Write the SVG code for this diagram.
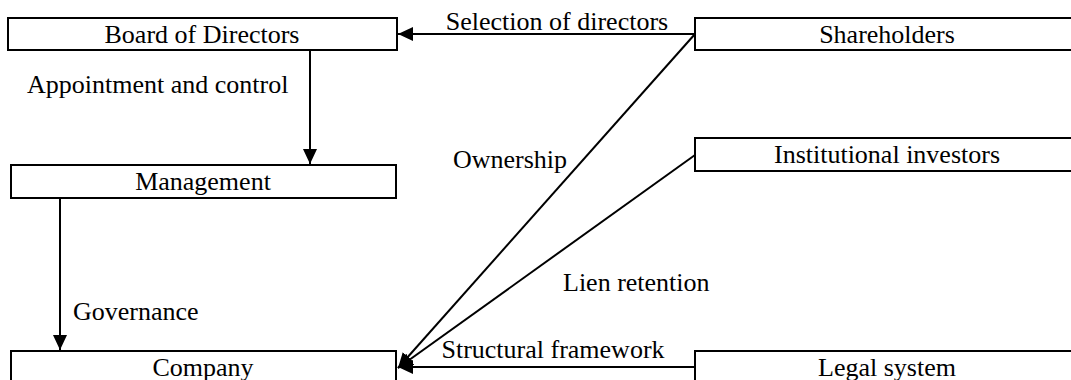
<svg xmlns="http://www.w3.org/2000/svg" width="1071" height="380" viewBox="0 0 1071 380">
<style>
.box{fill:#fff;stroke:#000;stroke-width:2}
.t{font-family:'Liberation Serif','Times New Roman','DejaVu Serif',serif;font-size:26px;fill:#000}
.c{text-anchor:middle}
.ln{stroke:#000;stroke-width:2;fill:none}
</style>
<defs>
<marker id="ah" markerUnits="userSpaceOnUse" markerWidth="16" markerHeight="14" refX="15" refY="7" orient="auto">
<path d="M0,0 L15,7 L0,14 Z" fill="#000"/>
</marker>
</defs>
<rect width="1071" height="380" fill="#fff"/>
<g id="connectors">
<line class="ln" x1="695" y1="34" x2="398" y2="34" marker-end="url(#ah)"/>
<line class="ln" x1="310" y1="50" x2="310" y2="164" marker-end="url(#ah)"/>
<line class="ln" x1="60" y1="198" x2="60" y2="350" marker-end="url(#ah)"/>
<line class="ln" x1="695" y1="34" x2="398" y2="368" marker-end="url(#ah)"/>
<line class="ln" x1="695" y1="155" x2="398" y2="368" marker-end="url(#ah)"/>
<line class="ln" x1="695" y1="367" x2="398" y2="367" marker-end="url(#ah)"/>
<text class="t c" x="557" y="30" font-family="Liberation Serif, serif">Selection of directors</text>
<text class="t" x="27" y="93" font-family="Liberation Serif, serif">Appointment and control</text>
<text class="t" x="453" y="168" font-family="Liberation Serif, serif">Ownership</text>
<text class="t" x="73" y="320" font-family="Liberation Serif, serif">Governance</text>
<text class="t" x="563" y="291" font-family="Liberation Serif, serif">Lien retention</text>
<text class="t c" x="553" y="358" font-family="Liberation Serif, serif">Structural framework</text>
</g>
<g id="board">
<rect class="box" x="8" y="18" width="389" height="32"/>
<text class="t c" x="202" y="43" font-family="Liberation Serif, serif">Board of Directors</text>
</g>
<g id="shareholders">
<rect class="box" x="695" y="18" width="385" height="32"/>
<text class="t c" x="887" y="43" font-family="Liberation Serif, serif">Shareholders</text>
</g>
<g id="management">
<rect class="box" x="11" y="165" width="385" height="33"/>
<text class="t c" x="203" y="190" font-family="Liberation Serif, serif">Management</text>
</g>
<g id="institutional">
<rect class="box" x="695" y="138" width="385" height="33"/>
<text class="t c" x="887" y="163" font-family="Liberation Serif, serif">Institutional investors</text>
</g>
<g id="company">
<rect class="box" x="11" y="351" width="385" height="40"/>
<text class="t c" x="203" y="376" font-family="Liberation Serif, serif">Company</text>
</g>
<g id="legal">
<rect class="box" x="695" y="351" width="385" height="40"/>
<text class="t c" x="887" y="376" font-family="Liberation Serif, serif">Legal system</text>
</g>
</svg>
